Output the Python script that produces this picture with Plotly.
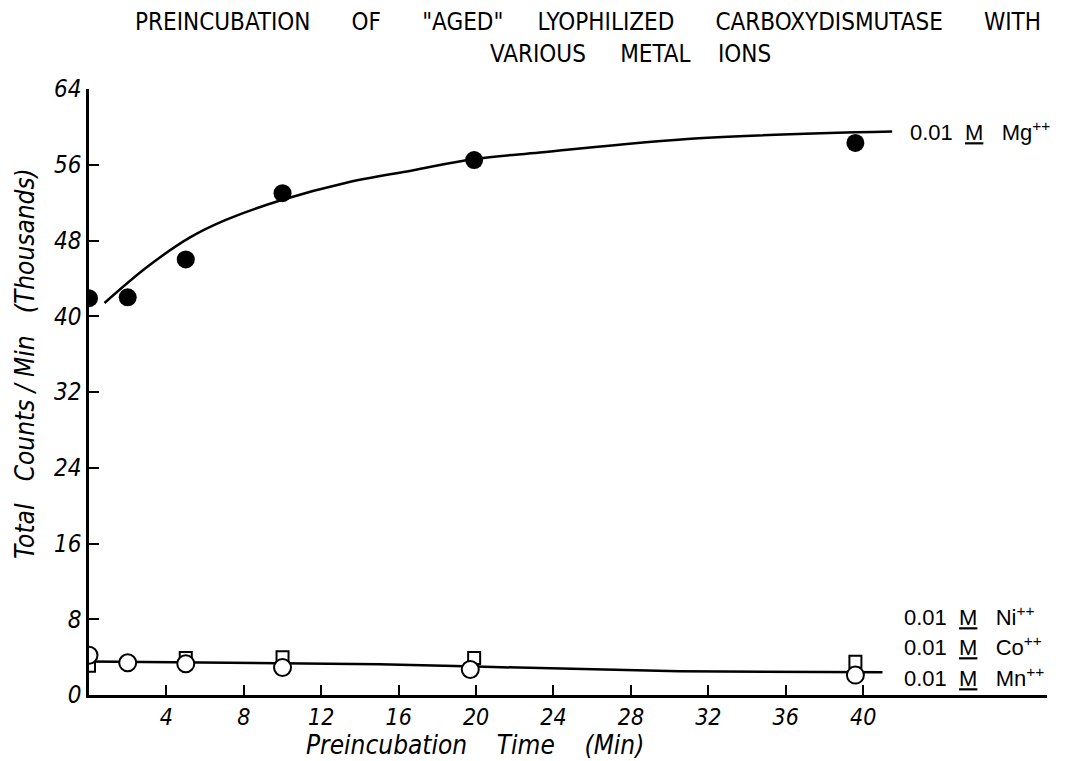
import plotly.graph_objects as go

# measured points (time in min, counts/min in thousands)
mg_time = [0, 2, 5, 10, 19.9, 39.6]
mg_counts = [41.9, 42.0, 46.0, 53.0, 56.5, 58.3]

# hand-drawn smooth curve through the Mg points
mg_curve_time = [0.8, 3.0, 5.2, 7.1, 10, 13.3, 16.7, 19.9, 23.3, 31.5, 41.5]
mg_curve_counts = [41.4, 45.2, 48.3, 50.2, 52.3, 54.1, 55.4, 56.6, 57.3, 58.8, 59.5]

square_time = [0, 5, 10, 19.9, 39.6]
square_counts = [3.1, 3.9, 4.0, 3.9, 3.5]

circle_time = [0, 2, 5, 10, 19.7, 39.6]
circle_counts = [4.2, 3.4, 3.3, 2.9, 2.7, 2.1]

low_curve_time = [0, 15, 20, 30.5, 41]
low_curve_counts = [3.55, 3.25, 3.0, 2.5, 2.4]

x_ticks = [4, 8, 12, 16, 20, 24, 28, 32, 36, 40]
y_ticks = [0, 8, 16, 24, 32, 40, 48, 56, 64]

FONT = "Liberation Sans Narrow, DejaVu Sans Condensed, sans-serif"
# page body adds an 8px offset, so the figure is 8px smaller than the window
OFF = 8
W, H = 1060, 753
L, R, T, B = 81, 21, 81, 66

fig = go.Figure()

# curves
fig.add_trace(go.Scatter(x=mg_curve_time, y=mg_curve_counts, mode="lines",
                         line=dict(color="black", width=2.5, shape="spline")))
fig.add_trace(go.Scatter(x=low_curve_time, y=low_curve_counts, mode="lines",
                         line=dict(color="black", width=2.5)))

# markers
fig.add_trace(go.Scatter(x=mg_time, y=mg_counts, mode="markers",
                         marker=dict(symbol="circle", size=18, color="black")))
fig.add_trace(go.Scatter(x=square_time, y=square_counts, mode="markers",
                         marker=dict(symbol="square", size=12, color="white",
                                     line=dict(color="black", width=2))))
fig.add_trace(go.Scatter(x=circle_time, y=circle_counts, mode="markers",
                         marker=dict(symbol="circle", size=17, color="white",
                                     line=dict(color="black", width=2))))

# series labels
labels = [
    (42.3, 59.6, "0.01  <u>M</u>   Mg<sup>++</sup>"),
    (42.0, 8.3, "0.01  <u>M</u>   Ni<sup>++</sup>"),
    (42.0, 5.2, "0.01  <u>M</u>   Co<sup>++</sup>"),
    (42.0, 1.9, "0.01  <u>M</u>   Mn<sup>++</sup>"),
]
for x, y, t in labels:
    fig.add_annotation(x=x, y=y, text=t, showarrow=False, xanchor="left",
                       yanchor="middle",
                       font=dict(family="Liberation Sans, Arial", size=22, color="black"))


def px_x(p):
    return (p - OFF - L) / (W - L - R)


def px_y(p):
    return (H - B - (p - OFF)) / (H - T - B)


# title, two lines with different centering
title_lines = [
    (588, 22, 'PREINCUBATION      OF      "AGED"     LYOPHILIZED      CARBOXYDISMUTASE      WITH'),
    (630, 54, "VARIOUS     METAL    IONS"),
]
for x, y, t in title_lines:
    fig.add_annotation(x=px_x(x), y=px_y(y), xref="paper", yref="paper", text=t,
                       showarrow=False, xanchor="center", yanchor="middle",
                       font=dict(family=FONT, size=24, color="black"))

# axis titles
fig.add_annotation(x=px_x(475), y=px_y(745), xref="paper", yref="paper",
                   text="Preincubation    Time    (Min)", showarrow=False,
                   xanchor="center", yanchor="middle",
                   font=dict(family=FONT, size=26, color="black", style="italic"))
fig.add_annotation(x=px_x(25), y=px_y(364), xref="paper", yref="paper",
                   text="Total   Counts / Min   (Thousands)", showarrow=False,
                   textangle=-90, xanchor="center", yanchor="middle",
                   font=dict(family=FONT, size=26, color="black", style="italic"))

fig.update_layout(
    width=W,
    height=H,
    margin=dict(l=L, r=R, t=T, b=B),
    paper_bgcolor="white",
    plot_bgcolor="white",
    showlegend=False,
)
fig.update_xaxes(
    range=[0, 49.5], tickvals=x_ticks, ticktext=[str(v) for v in x_ticks],
    showgrid=False, zeroline=False, showline=True, linecolor="black", linewidth=2.5,
    ticks="inside", ticklen=10, tickwidth=2, tickcolor="black", automargin=False,
    tickfont=dict(family=FONT, size=23, color="black", style="italic"),
)
fig.update_yaxes(
    range=[0, 64], tickvals=y_ticks, ticktext=[str(v) for v in y_ticks],
    showgrid=False, zeroline=False, showline=True, linecolor="black", linewidth=2.5,
    ticks="inside", ticklen=10, tickwidth=2, tickcolor="black", automargin=False,
    tickfont=dict(family=FONT, size=24, color="black", style="italic"),
)

fig.write_html("out.html")
